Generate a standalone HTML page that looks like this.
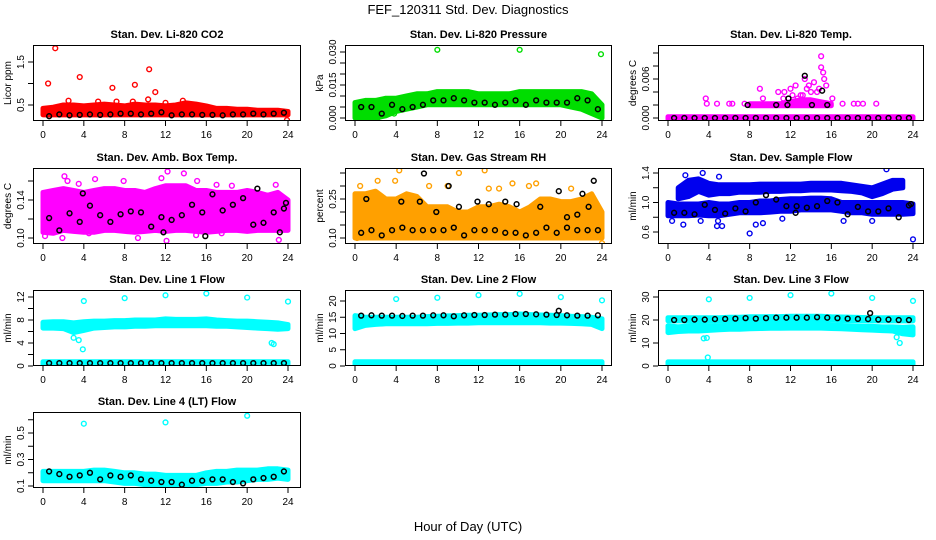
<!DOCTYPE html>
<html><head><meta charset="utf-8"><style>
html,body{margin:0;padding:0;background:#fff;}
svg{display:block;font-family:"Liberation Sans",Arial,sans-serif;}
</style></head><body>
<svg id="chart" width="936" height="540" viewBox="0 0 936 540">
<rect width="936" height="540" fill="#fff"/>
<text x="468" y="14" text-anchor="middle" font-size="13">FEF_120311  Std. Dev. Diagnostics</text>
<text x="468" y="531" text-anchor="middle" font-size="13">Hour of Day (UTC)</text>
</svg>
<script>
const HOURS=[0,1,2,3,4,5,6,7,8,9,10,11,12,13,14,15,16,17,18,19,20,21,22,23,24];
const BLACK_X=[0.6,1.6,2.6,3.6,4.6,5.6,6.6,7.6,8.6,9.6,10.6,11.6,12.6,13.6,14.6,15.6,16.6,17.6,18.6,19.6,20.6,21.6,22.6,23.6];
const XTICKS=[0,4,8,12,16,20,24];

// CO2
const co2Lo=[0.27,0.27,0.27,0.27,0.27,0.27,0.27,0.27,0.27,0.27,0.27,0.27,0.27,0.27,0.27,0.27,0.27,0.27,0.27,0.27,0.27,0.27,0.27,0.27,0.27];
const co2Hi=[0.42,0.45,0.5,0.5,0.48,0.5,0.52,0.5,0.48,0.52,0.5,0.5,0.48,0.5,0.55,0.52,0.48,0.42,0.42,0.4,0.4,0.38,0.38,0.38,0.35];
const co2Black=[0.24,0.28,0.26,0.27,0.28,0.27,0.28,0.3,0.3,0.28,0.3,0.33,0.26,0.28,0.28,0.27,0.27,0.26,0.28,0.28,0.3,0.28,0.3,0.32];
const co2OutX=[1.2,0.5,3.6,6.8,9,10.4,11,2.5,10.3,13.7,5.4,7.2,23.9,8.8,12.0];
const co2OutY=[1.82,1.0,1.15,0.9,0.97,1.33,0.8,0.6,0.63,0.6,0.58,0.58,0.15,0.58,0.55];

// Pressure
const prLo=[0,0,0,0.001,0.003,0.004,0.005,0.006,0.006,0.006,0.006,0.006,0.006,0.006,0.006,0.006,0.006,0.006,0.006,0.006,0.006,0.005,0.004,0.002,0];
const prHi=[0.007,0.008,0.008,0.009,0.009,0.01,0.011,0.011,0.012,0.012,0.012,0.012,0.011,0.011,0.011,0.011,0.012,0.012,0.012,0.012,0.012,0.012,0.012,0.011,0.006];
const prBlack=[0.005,0.005,0.002,0.006,0.004,0.005,0.006,0.008,0.008,0.009,0.008,0.007,0.007,0.006,0.007,0.008,0.006,0.008,0.007,0.007,0.007,0.009,0.008,0.004];
const prOutX=[8,16,23.9,2.2,3.8];
const prOutY=[0.031,0.031,0.029,0.0,0.002];

// Temp
const tpLo=[-0.0002,-0.0002,-0.0002,-0.0002,-0.0002,-0.0002,-0.0002,-0.0002,-0.0002,-0.0002,-0.0002,-0.0002,-0.0002,-0.0002,-0.0002,-0.0002,-0.0002,-0.0002,-0.0002,-0.0002,-0.0002,-0.0002,-0.0002,-0.0002,-0.0002];
const tpHi=[0.0002,0.0002,0.0002,0.0002,0.0002,0.0002,0.0002,0.0002,0.0002,0.0002,0.0002,0.0002,0.0002,0.0002,0.0002,0.0002,0.0002,0.0002,0.0002,0.0002,0.0002,0.0002,0.0002,0.0002,0.0002];
const tpLo2=[null,null,null,null,null,null,null,null,0.0019,0.0019,0.0019,0.0019,0.0019,0.0019,0.0019,0.0019,0.0019,null,null,null,null,null,null,null,null];
const tpHi2=[null,null,null,null,null,null,null,null,0.0022,0.0022,0.0022,0.0022,0.0025,0.0028,0.0028,0.0025,0.0022,null,null,null,null,null,null,null,null];
const tpBlack=[0,0,0,0,0,0,0,0,0,0,0,0,0,0,0,0,0,0,0,0,0,0,0,0];
const tpOutX=[9,10.8,11.4,12,12.5,13,13.4,13.8,14,14.3,14.6,15,15,15.2,15.3,15.5,16.1,9.3,11.3,12.7,3.7,3.8,4.8,6,6.3,7.5,17.1,18.2,18.6,19.1,20.4,13.2,12.2,13.6,14.8];
const tpOutY=[0.0045,0.004,0.004,0.0045,0.005,0.0035,0.006,0.005,0.004,0.0055,0.004,0.0095,0.0078,0.007,0.006,0.005,0.003,0.003,0.003,0.003,0.003,0.0022,0.0022,0.0022,0.0022,0.0022,0.0022,0.0022,0.0022,0.0022,0.0022,0.0035,0.0035,0.0045,0.0045];
const tpBxX=[7.8,10.6,11.7,11.8,13.4,14.1,15.1,15.6];
const tpBxY=[0.002,0.002,0.002,0.003,0.0065,0.002,0.0042,0.002];

// Ambient box temp
const abLo=[0.106,0.105,0.108,0.107,0.106,0.106,0.108,0.108,0.107,0.106,0.107,0.108,0.107,0.108,0.108,0.107,0.106,0.107,0.108,0.108,0.107,0.108,0.108,0.108,0.108];
const abHi=[0.148,0.15,0.152,0.15,0.148,0.15,0.152,0.152,0.15,0.15,0.148,0.152,0.155,0.155,0.155,0.15,0.15,0.148,0.148,0.148,0.15,0.148,0.145,0.148,0.14];
const abBlack=[0.121,0.108,0.126,0.117,0.134,0.124,0.117,0.125,0.128,0.127,0.112,0.122,0.119,0.124,0.135,0.127,0.146,0.129,0.135,0.142,0.114,0.116,0.127,0.131];
const abOutX=[2.1,2.4,3.5,5.1,7.9,12.2,13.8,11.6,15.1,17,18.5,22.8,0.2,1.9,9.3,12.1,23.1,17.5,4.5,15];
const abOutY=[0.165,0.16,0.157,0.162,0.16,0.17,0.168,0.163,0.16,0.156,0.155,0.156,0.102,0.1,0.1,0.097,0.098,0.105,0.105,0.103];
const abBxX=[3.9,21,23.8,11.8,23.2,15.9];
const abBxY=[0.147,0.152,0.137,0.106,0.106,0.102];

// Gas stream RH
const rhLo=[0.1,0.1,0.1,0.1,0.1,0.1,0.1,0.1,0.1,0.1,0.1,0.1,0.1,0.1,0.1,0.1,0.1,0.1,0.1,0.1,0.1,0.1,0.1,0.1,0.1];
const rhHi=[0.27,0.27,0.28,0.25,0.25,0.27,0.26,0.22,0.22,0.22,0.2,0.2,0.22,0.22,0.23,0.22,0.2,0.22,0.25,0.25,0.24,0.24,0.25,0.27,0.2];
const rhBlack=[0.12,0.13,0.11,0.13,0.14,0.13,0.13,0.13,0.13,0.14,0.11,0.13,0.13,0.13,0.12,0.12,0.11,0.12,0.14,0.12,0.14,0.13,0.13,0.13];
const rhOutX=[0.5,4.3,10.1,12.6,7.2,9,15.3,17.6,3.9,2.2,24,0.2,13,14,16.9,21];
const rhOutY=[0.3,0.36,0.35,0.36,0.3,0.3,0.31,0.31,0.32,0.32,0.08,0.1,0.29,0.29,0.3,0.29];
const rhBxX=[6.7,9.1,1.1,4.5,6.3,11.9,13,14.6,15.7,18,19.8,22.1,23.2,22.7,21.6,20.6,10.1,7.9];
const rhBxY=[0.348,0.3,0.25,0.24,0.24,0.24,0.23,0.24,0.23,0.22,0.28,0.27,0.32,0.22,0.19,0.18,0.22,0.2];

// Sample flow
const sfLo=[0.82,0.82,0.82,0.83,0.82,0.82,0.84,0.86,0.86,0.86,0.87,0.88,0.88,0.9,0.9,0.9,0.9,0.88,0.86,0.86,0.84,0.84,0.84,0.84,0.85];
const sfHi=[1.0,0.98,0.98,0.98,1.0,0.98,0.98,1.0,1.0,1.02,1.02,1.04,1.05,1.05,1.06,1.06,1.05,1.0,1.0,1.0,1.0,1.0,1.0,1.0,0.98];
const sfLo2=[null,1.05,1.08,1.15,1.1,1.12,1.12,1.14,1.14,1.14,1.15,1.15,1.16,1.16,1.17,1.17,1.17,1.16,1.15,1.13,1.08,1.12,1.18,1.2,null];
const sfHi2=[null,1.2,1.3,1.32,1.26,1.24,1.24,1.24,1.24,1.25,1.25,1.25,1.25,1.25,1.26,1.26,1.26,1.26,1.24,1.22,1.2,1.25,1.3,1.3,null];
const sfBlack=[0.86,0.86,0.84,0.97,0.9,0.85,0.92,0.88,1.0,1.1,1.04,0.95,0.95,0.93,0.95,1.02,1.0,0.84,0.94,0.88,0.88,0.92,0.8,0.96];
const sfOutX=[8,24,21.4,3.4,5,1.7,0.4,1.5,4.8,5.3,8.6,9.3,11.2,17.2,20,3.2,4.9];
const sfOutY=[0.58,0.5,1.45,1.4,1.35,1.37,0.75,0.7,0.68,0.68,0.7,0.72,0.78,0.75,0.75,0.75,0.75];
const sfBxX=[23.8,12.5];
const sfBxY=[0.98,0.86];

// Line 1 flow
const l1Lo=[6.6,6.6,6.5,5.8,6.2,6.6,6.7,6.8,6.8,6.9,6.9,7,7,7,7,7,7,6.9,6.9,6.8,6.7,6.6,6.5,6.4,6.5];
const l1Hi=[7.6,7.7,7.7,7.5,7.7,7.8,7.8,7.9,7.9,8,8,8,8.2,8.1,8.1,8.1,8.2,8,7.9,7.8,7.8,7.7,7.6,7.5,7.2];
const l1Lo2=[0.3,0.3,0.3,0.3,0.3,0.3,0.3,0.3,0.3,0.3,0.3,0.3,0.3,0.3,0.3,0.3,0.3,0.3,0.3,0.3,0.3,0.3,0.3,0.3,0.3];
const l1Hi2=[0.75,0.75,0.75,0.75,0.75,0.75,0.75,0.75,0.75,0.75,0.75,0.75,0.75,0.75,0.75,0.75,0.75,0.75,0.75,0.75,0.75,0.75,0.75,0.75,0.75];
const l1Black=[0.5,0.5,0.5,0.5,0.5,0.5,0.5,0.5,0.5,0.5,0.5,0.5,0.5,0.5,0.5,0.5,0.5,0.5,0.5,0.5,0.5,0.5,0.5,0.5];
const l1OutX=[4,8,12,16,20,24,3.9,3.5,3,22.4,22.6];
const l1OutY=[11.3,11.8,12.3,12.6,11.9,11.2,2.9,4.5,4.9,4,3.8];

// Line 2 flow
const l2Lo=[11.5,12.5,12.8,13,13,13,13,13,13.1,13.1,13.2,13.2,13.3,13.3,13.3,13.3,13.3,13.3,13.3,13.2,13.2,13.1,13,12.8,11.5];
const l2Hi=[15.5,15,15,15,15,15,15,15.2,15.3,15.4,15.5,15.6,15.6,15.7,15.8,15.8,16,15.8,15.7,15.6,15.5,15.3,15.2,15,14.5];
const l2Lo2=[0.4,0.4,0.4,0.4,0.4,0.4,0.4,0.4,0.4,0.4,0.4,0.4,0.4,0.4,0.4,0.4,0.4,0.4,0.4,0.4,0.4,0.4,0.4,0.4,0.4];
const l2Hi2=[1.3,1.3,1.3,1.3,1.3,1.3,1.3,1.3,1.3,1.3,1.3,1.3,1.3,1.3,1.3,1.3,1.3,1.3,1.3,1.3,1.3,1.3,1.3,1.3,1.3];
const l2Black=[15.5,15.6,15.5,15.5,15.4,15.5,15.5,15.6,15.6,15.3,15.6,15.7,15.7,15.8,15.8,16,16,15.9,15.8,15.7,15.6,15.5,15.5,15.6];
const l2OutX=[4,8,12,16,20,24];
const l2OutY=[20.6,21,21.8,22.2,21.2,20.2];
const l2BxX=[19.8];
const l2BxY=[17];

// Line 3 flow
const l3Lo=[14.5,15,15.2,15.2,15.5,15.8,16,16,16.2,16.3,16.4,16.4,16.5,16.5,16.5,16.5,16.3,16.2,16,15.8,15.6,15.4,15.2,14,13.5];
const l3Hi=[17.5,17,17.5,18,17.5,17.5,17.8,17.8,18,18,18,18,18,18,18,18,17.8,17.6,17.5,17.3,17.2,17,17,16.8,17];
const l3LoTop=[19.6,19.6,19.6,19.6,19.6,19.6,19.7,19.8,19.8,19.8,19.9,19.9,20,20,20,20,19.9,19.8,19.8,19.7,19.6,19.6,19.6,19.6,19.6];
const l3HiTop=[21,21,21,21,21,21,21.2,21.2,21.4,21.4,21.5,21.5,21.6,21.6,21.6,21.6,21.4,21.3,21.2,21.1,21,21,21,21,21];
const l3Lo2=[0.5,0.5,0.5,0.5,0.5,0.5,0.5,0.5,0.5,0.5,0.5,0.5,0.5,0.5,0.5,0.5,0.5,0.5,0.5,0.5,0.5,0.5,0.5,0.5,0.5];
const l3Hi2=[1.8,1.8,1.8,1.8,1.8,1.8,1.8,1.8,1.8,1.8,1.8,1.8,1.8,1.8,1.8,1.8,1.8,1.8,1.8,1.8,1.8,1.8,1.8,1.8,1.8];
const l3Black=[20,20,20.2,20.2,20.4,20.5,20.6,20.8,20.6,20.8,21,21,21,21,21.2,21,20.8,20.6,20.5,20.4,20.2,20.2,20,20];
const l3OutX=[4,8,12,16,20,24,3.5,3.8,3.9,22.4,22.7,23.3];
const l3OutY=[29,29.6,30.8,31.5,29.6,28.3,12,12.2,3.7,12.5,10,15];
const l3BxX=[19.8];
const l3BxY=[23];

// Line 4 flow
const l4Lo=[0.14,0.14,0.14,0.14,0.14,0.14,0.14,0.13,0.12,0.12,0.11,0.11,0.1,0.11,0.11,0.11,0.12,0.12,0.13,0.13,0.14,0.15,0.15,0.16,0.15];
const l4Hi=[0.21,0.21,0.21,0.21,0.21,0.22,0.22,0.21,0.2,0.2,0.19,0.19,0.18,0.18,0.18,0.18,0.2,0.21,0.21,0.22,0.22,0.22,0.23,0.23,0.22];
const l4Black=[0.21,0.19,0.17,0.18,0.2,0.15,0.18,0.17,0.18,0.15,0.14,0.13,0.13,0.11,0.14,0.14,0.15,0.15,0.13,0.12,0.15,0.16,0.17,0.21];
const l4OutX=[4,12,20];
const l4OutY=[0.57,0.58,0.63];

const COLS=[{l:33,r:301,x0:43,x24:288},{l:345,r:612,x0:355,x24:602},{l:658,r:924,x0:668,x24:913}];
const ROWS=[45,168,290,412];
const PH=76;

const panels=[
 {key:'co2',title:'Stan. Dev. Li-820 CO2',ylab:'Licor ppm',c:0,r:0,color:'#ff0000',ticks:[0.5,1.0,1.5],labs:['0.5','','1.5'],cal:[0.5,105,1.5,62],bands:[[co2Lo,co2Hi]],black:co2Black,ox:co2OutX,oy:co2OutY},
 {key:'pressure',title:'Stan. Dev. Li-820 Pressure',ylab:'kPa',c:1,r:0,color:'#00dd00',ticks:[0,0.005,0.01,0.015,0.02,0.025,0.03],labs:['0.000','','','0.015','','','0.030'],cal:[0,118,0.03,52],bands:[[prLo,prHi]],black:prBlack,ox:prOutX,oy:prOutY},
 {key:'temp',title:'Stan. Dev. Li-820 Temp.',ylab:'degrees C',c:2,r:0,color:'#ff00ff',ticks:[0,0.002,0.004,0.006,0.008,0.01],labs:['0.000','','','0.006','',''],cal:[0,118,0.006,79],bands:[[tpLo,tpHi],[tpLo2,tpHi2]],black:tpBlack,ox:tpOutX,oy:tpOutY,bx:tpBxX,by:tpBxY},
 {key:'ambtemp',title:'Stan. Dev. Amb. Box Temp.',ylab:'degrees C',c:0,r:1,color:'#ff00ff',ticks:[0.1,0.12,0.14,0.16],labs:['0.10','','0.14',''],cal:[0.1,238,0.14,200],bands:[[abLo,abHi]],black:abBlack,ox:abOutX,oy:abOutY,bx:abBxX,by:abBxY},
 {key:'rh',title:'Stan. Dev. Gas Stream RH',ylab:'percent',c:1,r:1,color:'#ffa000',ticks:[0.1,0.15,0.2,0.25,0.3,0.35],labs:['0.10','','','0.25','',''],cal:[0.1,238,0.25,199],bands:[[rhLo,rhHi]],black:rhBlack,ox:rhOutX,oy:rhOutY,bx:rhBxX,by:rhBxY},
 {key:'sampleflow',title:'Stan. Dev. Sample Flow',ylab:'ml/min',c:2,r:1,color:'#0000ee',ticks:[0.6,0.8,1.0,1.2,1.4],labs:['0.6','','1.0','','1.4'],cal:[0.6,232,1.4,173],bands:[[sfLo,sfHi],[sfLo2,sfHi2]],black:sfBlack,ox:sfOutX,oy:sfOutY,bx:sfBxX,by:sfBxY},
 {key:'line1',title:'Stan. Dev. Line 1 Flow',ylab:'ml/min',c:0,r:2,color:'#00ffff',ticks:[0,2,4,6,8,10,12],labs:['0','','4','','8','','12'],cal:[0,366,12,297],bands:[[l1Lo,l1Hi],[l1Lo2,l1Hi2]],black:l1Black,ox:l1OutX,oy:l1OutY},
 {key:'line2',title:'Stan. Dev. Line 2 Flow',ylab:'ml/min',c:1,r:2,color:'#00ffff',ticks:[0,5,10,15,20],labs:['0','5','10','15','20'],cal:[0,366,20,301],bands:[[l2Lo,l2Hi],[l2Lo2,l2Hi2]],black:l2Black,ox:l2OutX,oy:l2OutY,bx:l2BxX,by:l2BxY},
 {key:'line3',title:'Stan. Dev. Line 3 Flow',ylab:'ml/min',c:2,r:2,color:'#00ffff',ticks:[0,10,20,30],labs:['0','10','20','30'],cal:[0,366,30,297],bands:[[l3Lo,l3Hi],[l3LoTop,l3HiTop],[l3Lo2,l3Hi2]],black:l3Black,ox:l3OutX,oy:l3OutY,bx:l3BxX,by:l3BxY},
 {key:'line4',title:'Stan. Dev. Line 4 (LT) Flow',ylab:'ml/min',c:0,r:3,color:'#00ffff',ticks:[0.1,0.2,0.3,0.4,0.5,0.6],labs:['0.1','','0.3','','0.5',''],cal:[0.1,486,0.5,433],bands:[[l4Lo,l4Hi]],black:l4Black,ox:l4OutX,oy:l4OutY}
];

const NS='http://www.w3.org/2000/svg';
const svg=document.getElementById('chart');
function mk(tag,attrs,parent){const e=document.createElementNS(NS,tag);for(const k in attrs)e.setAttribute(k,attrs[k]);parent.appendChild(e);return e;}

panels.forEach(p=>{
 const col=COLS[p.c], top=ROWS[p.r], bot=top+PH;
 const g=mk('g',{},svg);
 
 
 const xs=h=>col.x0+(h/24)*(col.x24-col.x0);
 const ys=v=>p.cal[1]+(v-p.cal[0])*(p.cal[3]-p.cal[1])/(p.cal[2]-p.cal[0]);
 const clip='clip-'+p.key;
 const cp=mk('clipPath',{id:clip},g);
 mk('rect',{x:col.l,y:top,width:col.r-col.l,height:PH},cp);
 const data=mk('g',{'clip-path':'url(#'+clip+')'},g);
 p.bands.forEach((b)=>{
  const lo=b[0],hi=b[1];
  let seg=[];
  const segs=[];
  for(let i=0;i<HOURS.length;i++){
   if(lo[i]===null||hi[i]===null){if(seg.length)segs.push(seg);seg=[];}
   else seg.push(i);
  }
  if(seg.length)segs.push(seg);
  segs.forEach(s=>{
   let d='';
   s.forEach((i,k)=>{d+=(k?'L':'M')+xs(HOURS[i]).toFixed(1)+','+ys(hi[i]).toFixed(1);});
   for(let k=s.length-1;k>=0;k--){const i=s[k];d+='L'+xs(HOURS[i]).toFixed(1)+','+ys(lo[i]).toFixed(1);}
   d+='Z';
   const path=mk('path',{d:d,fill:p.color,stroke:p.color,'stroke-width':5,'stroke-linejoin':'round'},data);
   
   
  });
 });
 p.ox.forEach((x,i)=>{
  const c=mk('circle',{cx:xs(x),cy:ys(p.oy[i]),r:2.4,fill:'none',stroke:p.color,'stroke-width':1.4},data);
  
  
 });
 p.black.forEach((v,i)=>{
  const c=mk('circle',{cx:xs(BLACK_X[i]),cy:ys(v),r:2.4,fill:'none',stroke:'#000','stroke-width':1.5},data);
  
  
 });
 if(p.bx){p.bx.forEach((x,i)=>{
  const c=mk('circle',{cx:xs(x),cy:ys(p.by[i]),r:2.4,fill:'none',stroke:'#000','stroke-width':1.5},data);
  
  
 });}
 const fr=mk('rect',{x:col.l+0.5,y:top+0.5,width:col.r-col.l-1,height:PH-1,fill:'none',stroke:'#000','stroke-width':1},g);
 
 
 const t=mk('text',{x:(col.l+col.r)/2,y:top-7,'text-anchor':'middle','font-size':11,'font-weight':'bold'},g);
 t.textContent=p.title;
 
 
 XTICKS.forEach(h=>{
  const x=xs(h);
  mk('line',{x1:x,y1:bot,x2:x,y2:bot+5,stroke:'#000','stroke-width':1},g);
  const lt=mk('text',{x:x,y:bot+17,'text-anchor':'middle','font-size':10},g);
  lt.textContent=h;
  
  
 });
 p.ticks.forEach((v,i)=>{
  const y=ys(v);
  mk('line',{x1:col.l-5,y1:y,x2:col.l,y2:y,stroke:'#000','stroke-width':1},g);
  if(p.labs[i]){
   const lt=mk('text',{x:0,y:0,'text-anchor':'middle','font-size':10,transform:'translate('+(col.l-9)+','+y+') rotate(-90)'},g);
   lt.textContent=p.labs[i];
   
   
  }
 });
 const yl=mk('text',{x:0,y:0,'text-anchor':'middle','font-size':10,transform:'translate('+(col.l-22)+','+(top+PH/2)+') rotate(-90)'},g);
 yl.textContent=p.ylab;
 
 
});
</script>
</body></html>
